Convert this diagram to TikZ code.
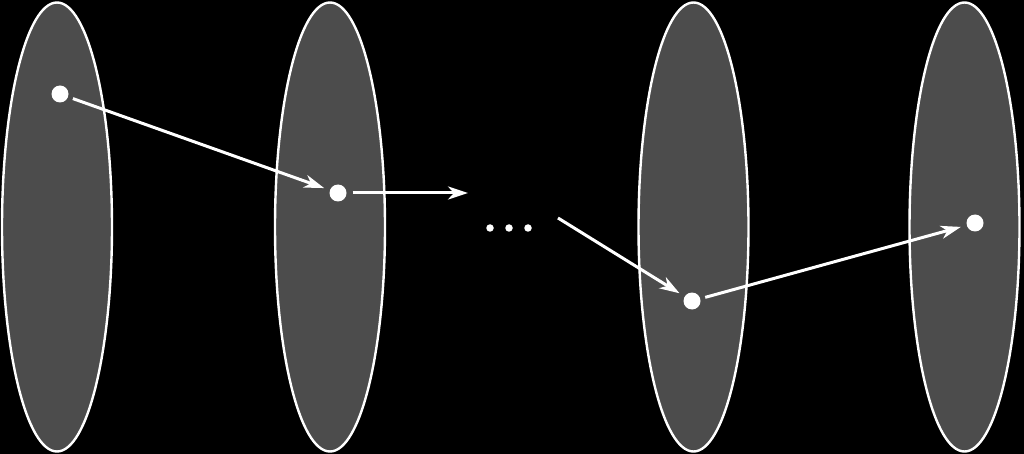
\documentclass[tikz,border=0pt]{standalone}
\usetikzlibrary{shapes.geometric,arrows.meta}
\begin{document}
\begin{tikzpicture}[x=1pt,y=-1pt,
  setshape/.style={ellipse,draw=white,fill=black!70,line width=2.4pt,minimum width=110pt,minimum height=449pt,inner sep=0pt},
  point/.style={circle,fill=white,inner sep=0pt,minimum size=17pt},
  small/.style={circle,fill=white,inner sep=0pt,minimum size=7.5pt},
  link/.style={draw=white,line width=3pt,-{Stealth[length=20pt,width=13pt,inset=6pt]}}]
\fill[black] (0,0) rectangle (1024,454);
\useasboundingbox (0,0) rectangle (1024,454);
\node[setshape] (e1) at (57,227) {};
\node[setshape] (e2) at (330,227) {};
\node[setshape] (e3) at (693.5,227) {};
\node[setshape] (e4) at (964.5,227) {};
\node[point] (p1) at (60,94) {};
\node[point] (p2) at (338,193) {};
\node[point] (p3) at (692,301) {};
\node[point] (p4) at (975,223) {};
\coordinate (c2) at (468,193);
\coordinate (c3) at (558,218);
\node[small] (d1) at (490,228) {};
\node[small] (d2) at (509,228) {};
\node[small] (d3) at (528,228) {};
\draw[link,shorten <=5pt,shorten >=6pt] (p1) -- (p2);
\draw[link,shorten <=6pt] (p2) -- (c2);
\draw[link,shorten >=6pt] (c3) -- (p3);
\draw[link,shorten <=5pt,shorten >=6pt] (p3) -- (p4);
\end{tikzpicture}
\end{document}
